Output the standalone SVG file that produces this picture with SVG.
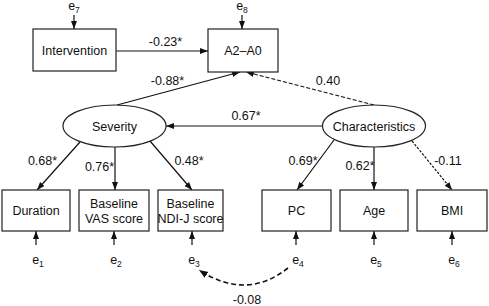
<svg xmlns="http://www.w3.org/2000/svg" width="489" height="306" viewBox="0 0 489 306">
<defs>
<style>
.box{fill:#fff;stroke:#222;stroke-width:1.2}
.ell{fill:#fff;stroke:#222;stroke-width:1.2}
.t{font-family:"Liberation Sans",Arial,sans-serif;font-size:12.5px;fill:#111;text-anchor:middle}
.e{font-family:"Liberation Sans",Arial,sans-serif;font-size:12.5px;fill:#111;text-anchor:middle}
.sub{font-size:8.5px}
.ln{fill:none;stroke:#111;stroke-width:1.2;marker-end:url(#ah)}
.dash{stroke-dasharray:4,2}
.dot{stroke-dasharray:2.5,1.5}
.curve{fill:none;stroke:#111;stroke-width:1.6;stroke-dasharray:5,3;marker-end:url(#ah2)}
</style>
<marker id="ah" markerUnits="userSpaceOnUse" markerWidth="9" markerHeight="7" refX="8" refY="3" orient="auto">
<path d="M0,0 L8,3 L0,6 z" fill="#111"/>
</marker>
<marker id="ah2" markerUnits="userSpaceOnUse" markerWidth="10" markerHeight="8" refX="9" refY="3.5" orient="auto">
<path d="M0,0 L9,3.5 L0,7 z" fill="#111"/>
</marker>
</defs>
<rect width="489" height="306" fill="#fff"/>
<g id="connectors">
<line class="ln" x1="116" y1="51" x2="208" y2="51"/>
<line class="ln" x1="117" y1="105" x2="240" y2="72"/>
<line class="ln dash" x1="374" y1="105" x2="246" y2="72"/>
<line class="ln" x1="323" y1="126" x2="166" y2="126"/>
<line class="ln" x1="80" y1="142" x2="37" y2="190"/>
<line class="ln" x1="115" y1="147" x2="115" y2="190"/>
<line class="ln" x1="150" y1="141" x2="192" y2="190"/>
<line class="ln" x1="334" y1="140" x2="297" y2="190"/>
<line class="ln" x1="374" y1="147" x2="374" y2="190"/>
<line class="ln dot" x1="412" y1="141" x2="452" y2="190"/>
<line class="ln" x1="74" y1="15" x2="74" y2="29"/>
<line class="ln" x1="242" y1="15" x2="242" y2="29"/>
<line class="ln" x1="36" y1="245" x2="36" y2="231"/>
<line class="ln" x1="114" y1="245" x2="114" y2="231"/>
<line class="ln" x1="192" y1="245" x2="192" y2="231"/>
<line class="ln" x1="296" y1="245" x2="296" y2="231"/>
<line class="ln" x1="374" y1="245" x2="374" y2="231"/>
<line class="ln" x1="452" y1="245" x2="452" y2="231"/>
<path class="curve" d="M288,268 Q246.5,301 199,270"/>
<text class="t" x="165.5" y="45.5">-0.23*</text>
<text class="t" x="167.5" y="84.5">-0.88*</text>
<text class="t" x="328" y="84.5">0.40</text>
<text class="t" x="246" y="119.5">0.67*</text>
<text class="t" x="42.5" y="164.5">0.68*</text>
<text class="t" x="99.5" y="170.5">0.76*</text>
<text class="t" x="189" y="164.5">0.48*</text>
<text class="t" x="303" y="164.5">0.69*</text>
<text class="t" x="360" y="169.5">0.62*</text>
<text class="t" x="448" y="164.5">-0.11</text>
<text class="t" x="247" y="304">-0.08</text>
</g>
<g id="e7"><text class="e" x="74" y="10">e<tspan class="sub" dy="3">7</tspan></text></g>
<g id="e8"><text class="e" x="242" y="10">e<tspan class="sub" dy="3">8</tspan></text></g>
<g id="e1"><text class="e" x="38" y="263.5">e<tspan class="sub" dy="3">1</tspan></text></g>
<g id="e2"><text class="e" x="116" y="263.5">e<tspan class="sub" dy="3">2</tspan></text></g>
<g id="e3"><text class="e" x="194" y="263.5">e<tspan class="sub" dy="3">3</tspan></text></g>
<g id="e4"><text class="e" x="298" y="263.5">e<tspan class="sub" dy="3">4</tspan></text></g>
<g id="e5"><text class="e" x="376" y="263.5">e<tspan class="sub" dy="3">5</tspan></text></g>
<g id="e6"><text class="e" x="454" y="263.5">e<tspan class="sub" dy="3">6</tspan></text></g>
<g id="intervention"><rect class="box" x="33" y="29" width="83" height="42"/><text class="t" x="74.5" y="54.5">Intervention</text></g>
<g id="a2a0"><rect class="box" x="208" y="29" width="70" height="43"/><text class="t" x="243" y="55">A2–A0</text></g>
<g id="severity"><ellipse class="ell" cx="114.5" cy="126" rx="51.5" ry="21"/><text class="t" x="114.5" y="130.5">Severity</text></g>
<g id="characteristics"><ellipse class="ell" cx="374" cy="126" rx="51.5" ry="21"/><text class="t" x="374" y="130.5">Characteristics</text></g>
<g id="duration"><rect class="box" x="2" y="190" width="68" height="41"/><text class="t" x="36" y="215">Duration</text></g>
<g id="vas"><rect class="box" x="79" y="190" width="70" height="41"/><text class="t" x="114" y="207.5">Baseline</text><text class="t" x="114" y="222.5">VAS score</text></g>
<g id="ndij"><rect class="box" x="158" y="190" width="65" height="41"/><text class="t" x="190.5" y="207.5">Baseline</text><text class="t" x="190.5" y="222.5">NDI-J score</text></g>
<g id="pc"><rect class="box" x="262" y="190" width="69" height="41"/><text class="t" x="296.5" y="215">PC</text></g>
<g id="age"><rect class="box" x="340" y="190" width="68" height="41"/><text class="t" x="374" y="215">Age</text></g>
<g id="bmi"><rect class="box" x="417" y="190" width="70" height="41"/><text class="t" x="452" y="215">BMI</text></g>
</svg>
